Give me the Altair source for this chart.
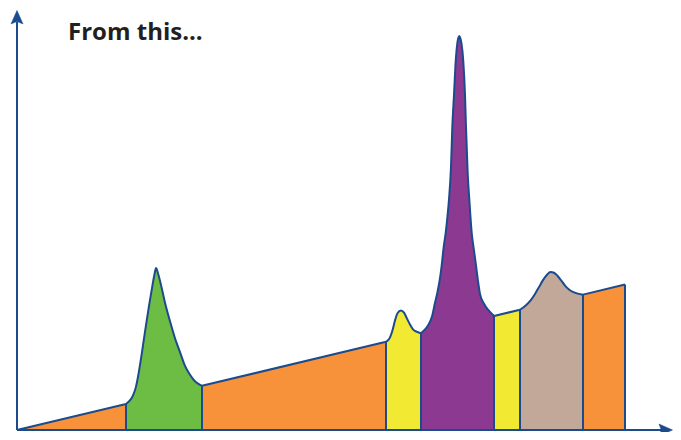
import altair as alt
import pandas as pd

# x positions (px) and heights above the x axis (px)
orange1_x = [17, 126]
orange1_h = [0, 26.4]

green_x = [126, 129, 132, 134.5, 136, 138, 140, 142, 144, 146.7, 149.5, 152.5, 154.5, 156,
           158, 161.7, 165, 170, 175, 180, 185, 190, 194, 198, 202]
green_h = [26.4, 29, 33, 39, 44, 54, 66, 79, 93, 111, 129, 147, 158, 164.3,
           159, 144, 129, 110.3, 93, 79, 65, 56, 50.5, 47, 44.8]

orange2_x = [202, 386]
orange2_h = [44.8, 89.5]

yellow1_x = [386, 388, 390, 393, 395, 397.5, 401, 404, 407, 410, 413, 417, 421]
yellow1_h = [89.5, 91, 94, 103, 111, 118.5, 121.3, 119, 113, 107, 102, 99.5, 98.2]

purple_x = [421, 424, 428, 432, 435, 437.5, 440, 441.7, 443.5, 445.7, 447.5, 449, 451, 452.3,
            454, 455.7, 457.3, 458.3, 459.3, 460.3, 461.5, 463.3, 465, 466, 467.7, 469.3,
            471.7, 474, 476, 478, 480, 484, 488, 494]
purple_h = [98.2, 101, 106, 115, 129, 140, 154, 167, 184, 200, 217, 234, 267, 307,
            340, 374, 392, 397.5, 399.7, 397.5, 392, 374, 340, 307, 260, 234,
            200, 182, 167, 151, 138, 128, 122, 115.6]

yellow2_x = [494, 520]
yellow2_h = [115.6, 122]

tan_x = [520, 526, 531, 535, 539, 543, 547, 550.5, 554, 557, 561, 565, 569, 574, 583]
tan_h = [122, 126.5, 132, 138, 145, 152, 157.5, 160.3, 159.5, 157, 152, 146.5, 142.5, 139.5, 137.3]

orange3_x = [583, 625]
orange3_h = [137.3, 147.5]

regions = ["o1", "g", "o2", "y1", "p", "y2", "t", "o3"]
region_colors = ["#f7913a", "#6dbd45", "#f7913a", "#f2e933", "#8c3a91", "#f2e933", "#c2a898", "#f7913a"]
region_xs = [orange1_x, green_x, orange2_x, yellow1_x, purple_x, yellow2_x, tan_x, orange3_x]
region_hs = [orange1_h, green_h, orange2_h, yellow1_h, purple_h, yellow2_h, tan_h, orange3_h]

boundary_x = [126, 202, 386, 421, 494, 520, 583, 625]
boundary_h = [26.4, 44.8, 89.5, 98.2, 115.6, 122, 137.3, 147.5]

title_text = "From this..."

OUTLINE = "#1b4b8c"

xs = alt.Scale(domain=[8, 673], nice=False, zero=False)
ys = alt.Scale(domain=[-2.03, 428.04], nice=False, zero=False)

X = alt.X("x:Q", scale=xs, axis=None)
Y = alt.Y("h:Q", scale=ys, axis=None)

layers = []
for r, c, rx, rh in zip(regions, region_colors, region_xs, region_hs):
    rdf = pd.DataFrame({"x": rx, "h": rh, "h0": [0] * len(rx)})
    layers.append(
        alt.Chart(rdf).mark_area(interpolate="monotone", color=c, opacity=1).encode(
            x=X, y=Y, y2="h0:Q"
        )
    )
for r, rx, rh in zip(regions, region_xs, region_hs):
    rdf = pd.DataFrame({"x": rx, "h": rh})
    layers.append(
        alt.Chart(rdf).mark_line(interpolate="monotone", color=OUTLINE, strokeWidth=2).encode(
            x=X, y=Y
        )
    )

bdf = pd.DataFrame({"x": boundary_x, "h": boundary_h, "h0": [0] * len(boundary_x)})
layers.append(alt.Chart(bdf).mark_rule(color=OUTLINE, strokeWidth=2).encode(x=X, y=Y, y2="h0:Q"))

axes_df = pd.DataFrame({"x": [17], "x2": [664], "h": [0], "h2": [414]})
layers.append(alt.Chart(axes_df).mark_rule(color=OUTLINE, strokeWidth=2).encode(x=X, x2="x2:Q", y=Y))
layers.append(alt.Chart(axes_df).mark_rule(color=OUTLINE, strokeWidth=2).encode(x=X, y=Y, y2="h2:Q"))

up_df = pd.DataFrame({"x": [17], "h": [418.5]})
right_df = pd.DataFrame({"x": [665.5], "h": [0]})
layers.append(alt.Chart(up_df).mark_point(
    shape="M0,-1 L0.86,0.93 L0,0.6 L-0.86,0.93 Z", size=196, filled=True,
    fill=OUTLINE, stroke=OUTLINE, strokeWidth=0.5, opacity=1
).encode(x=X, y=Y))
layers.append(alt.Chart(right_df).mark_point(
    shape="M1,0 L-0.93,0.86 L-0.6,0 L-0.93,-0.86 Z", size=196, filled=True,
    fill=OUTLINE, stroke=OUTLINE, strokeWidth=0.5, opacity=1
).encode(x=X, y=Y))

layers.append(alt.Chart(pd.DataFrame({"t": [title_text]})).mark_text(
    align="left", baseline="alphabetic", font="Open Sans", fontSize=24, fontWeight="bold",
    color="#231f20"
).encode(x=alt.value(60), y=alt.value(32), text="t:N"))

chart = alt.layer(*layers).properties(
    width=665, height=424, padding=0, autosize=alt.AutoSizeParams(type="none")
).configure_view(stroke=None)

chart.save("out.html", embed_options={"renderer": "svg", "actions": False})
